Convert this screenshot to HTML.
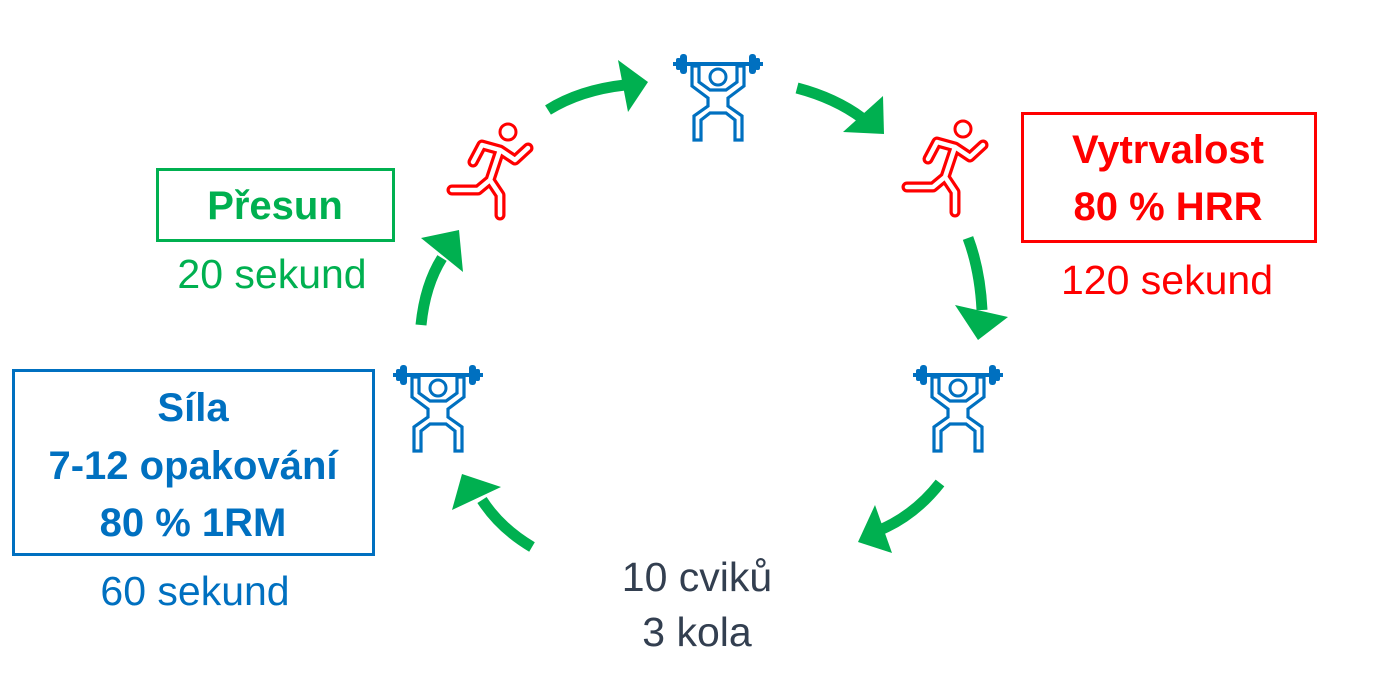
<!DOCTYPE html>
<html><head><meta charset="utf-8"><style>
body{margin:0;background:#fff;width:1384px;height:685px;overflow:hidden;font-family:"Liberation Sans",sans-serif}
</style></head><body>
<svg width="1384" height="685" viewBox="0 0 1384 685" xmlns="http://www.w3.org/2000/svg">
<defs>
<g id="lift">
 <polygon points="19,14 19,34 35,46 35,54 21,64 21,88 28,88 28,68 37,61 53,61 62,68 62,88 69,88 69,64 55,54 55,46 71,34 71,14 64,14 64,30 53,38 37,38 26,30 26,14" fill="none" stroke="#0070C0" stroke-width="3.2" stroke-linejoin="miter"/>
 <rect x="0" y="10" width="90" height="4" fill="#0070C0"/>
 <rect x="7" y="2" width="7" height="20" rx="3" fill="#0070C0"/>
 <rect x="76" y="2" width="7" height="20" rx="3" fill="#0070C0"/>
 <rect x="3" y="6" width="5" height="12" rx="2" fill="#0070C0"/>
 <rect x="82" y="6" width="5" height="12" rx="2" fill="#0070C0"/>
 <circle cx="45" cy="25" r="8" fill="#fff" stroke="#0070C0" stroke-width="3"/>
</g>
<g id="run">
 <path d="M60 35 L50 65 L38 75 L12 75 M60 35 L42 30 L33 47 M60 35 L75 45 L88 33 M50 65 L60 80 L60 100" fill="none" stroke="#FF0000" stroke-width="11" stroke-linejoin="round" stroke-linecap="round"/>
 <path d="M60 35 L50 65 L38 75 L12 75 M60 35 L42 30 L33 47 M60 35 L75 45 L88 33 M50 65 L60 80 L60 100" fill="none" stroke="#fff" stroke-width="4.5" stroke-linejoin="round" stroke-linecap="round"/>
 <circle cx="68" cy="17" r="8" fill="#fff" stroke="#FF0000" stroke-width="3"/>
</g>
</defs>

<use href="#lift" x="673" y="52"/>
<use href="#lift" x="393" y="363"/>
<use href="#lift" x="913" y="363"/>
<use href="#run" x="440" y="115"/>
<use href="#run" x="895" y="112"/>

<g fill="none" stroke="#00B050" stroke-width="11">
 <path d="M548 110 Q580 90 625 85"/>
 <path d="M797 88 Q835 98 862 118"/>
 <path d="M968 238 Q980 270 982 310"/>
 <path d="M940 483 Q915 515 880 530"/>
 <path d="M532 547 Q500 528 482 500"/>
 <path d="M421 325 Q425 285 442 258"/>
</g>
<g fill="#00B050">
 <polygon points="618,60 648,82 628,112"/>
 <polygon points="843,132 884,134 883,96"/>
 <polygon points="955,305 1008,317 978,340"/>
 <polygon points="875,505 858,542 892,553"/>
 <polygon points="452,510 462,474 501,487"/>
 <polygon points="421,238 459,230 463,272"/>
</g>

<rect x="157.5" y="169.5" width="236" height="71" fill="none" stroke="#00B050" stroke-width="3"/>
<rect x="1022.5" y="113.5" width="293" height="128" fill="none" stroke="#FF0000" stroke-width="3"/>
<rect x="13.5" y="370.5" width="360" height="184" fill="none" stroke="#0070C0" stroke-width="3"/>

<g text-anchor="middle" font-family="Liberation Sans, sans-serif">
 <text x="275" y="219" font-size="40" font-weight="bold" fill="#00B050">Přesun</text>
 <text x="272" y="288" font-size="41" fill="#00B050">20 sekund</text>
 <text x="1168" y="163" font-size="40" font-weight="bold" fill="#FF0000">Vytrvalost</text>
 <text x="1168" y="220" font-size="40" font-weight="bold" fill="#FF0000">80 % HRR</text>
 <text x="1167" y="294" font-size="41" fill="#FF0000">120 sekund</text>
 <text x="193" y="421" font-size="40" font-weight="bold" fill="#0070C0">Síla</text>
 <text x="193" y="479" font-size="40" font-weight="bold" fill="#0070C0">7-12 opakování</text>
 <text x="193" y="536" font-size="40" font-weight="bold" fill="#0070C0">80 % 1RM</text>
 <text x="195" y="605" font-size="41" fill="#0070C0">60 sekund</text>
 <text x="697" y="591" font-size="41" fill="#333F50">10 cviků</text>
 <text x="697" y="646" font-size="41" fill="#333F50">3 kola</text>
</g>
</svg>
</body></html>
